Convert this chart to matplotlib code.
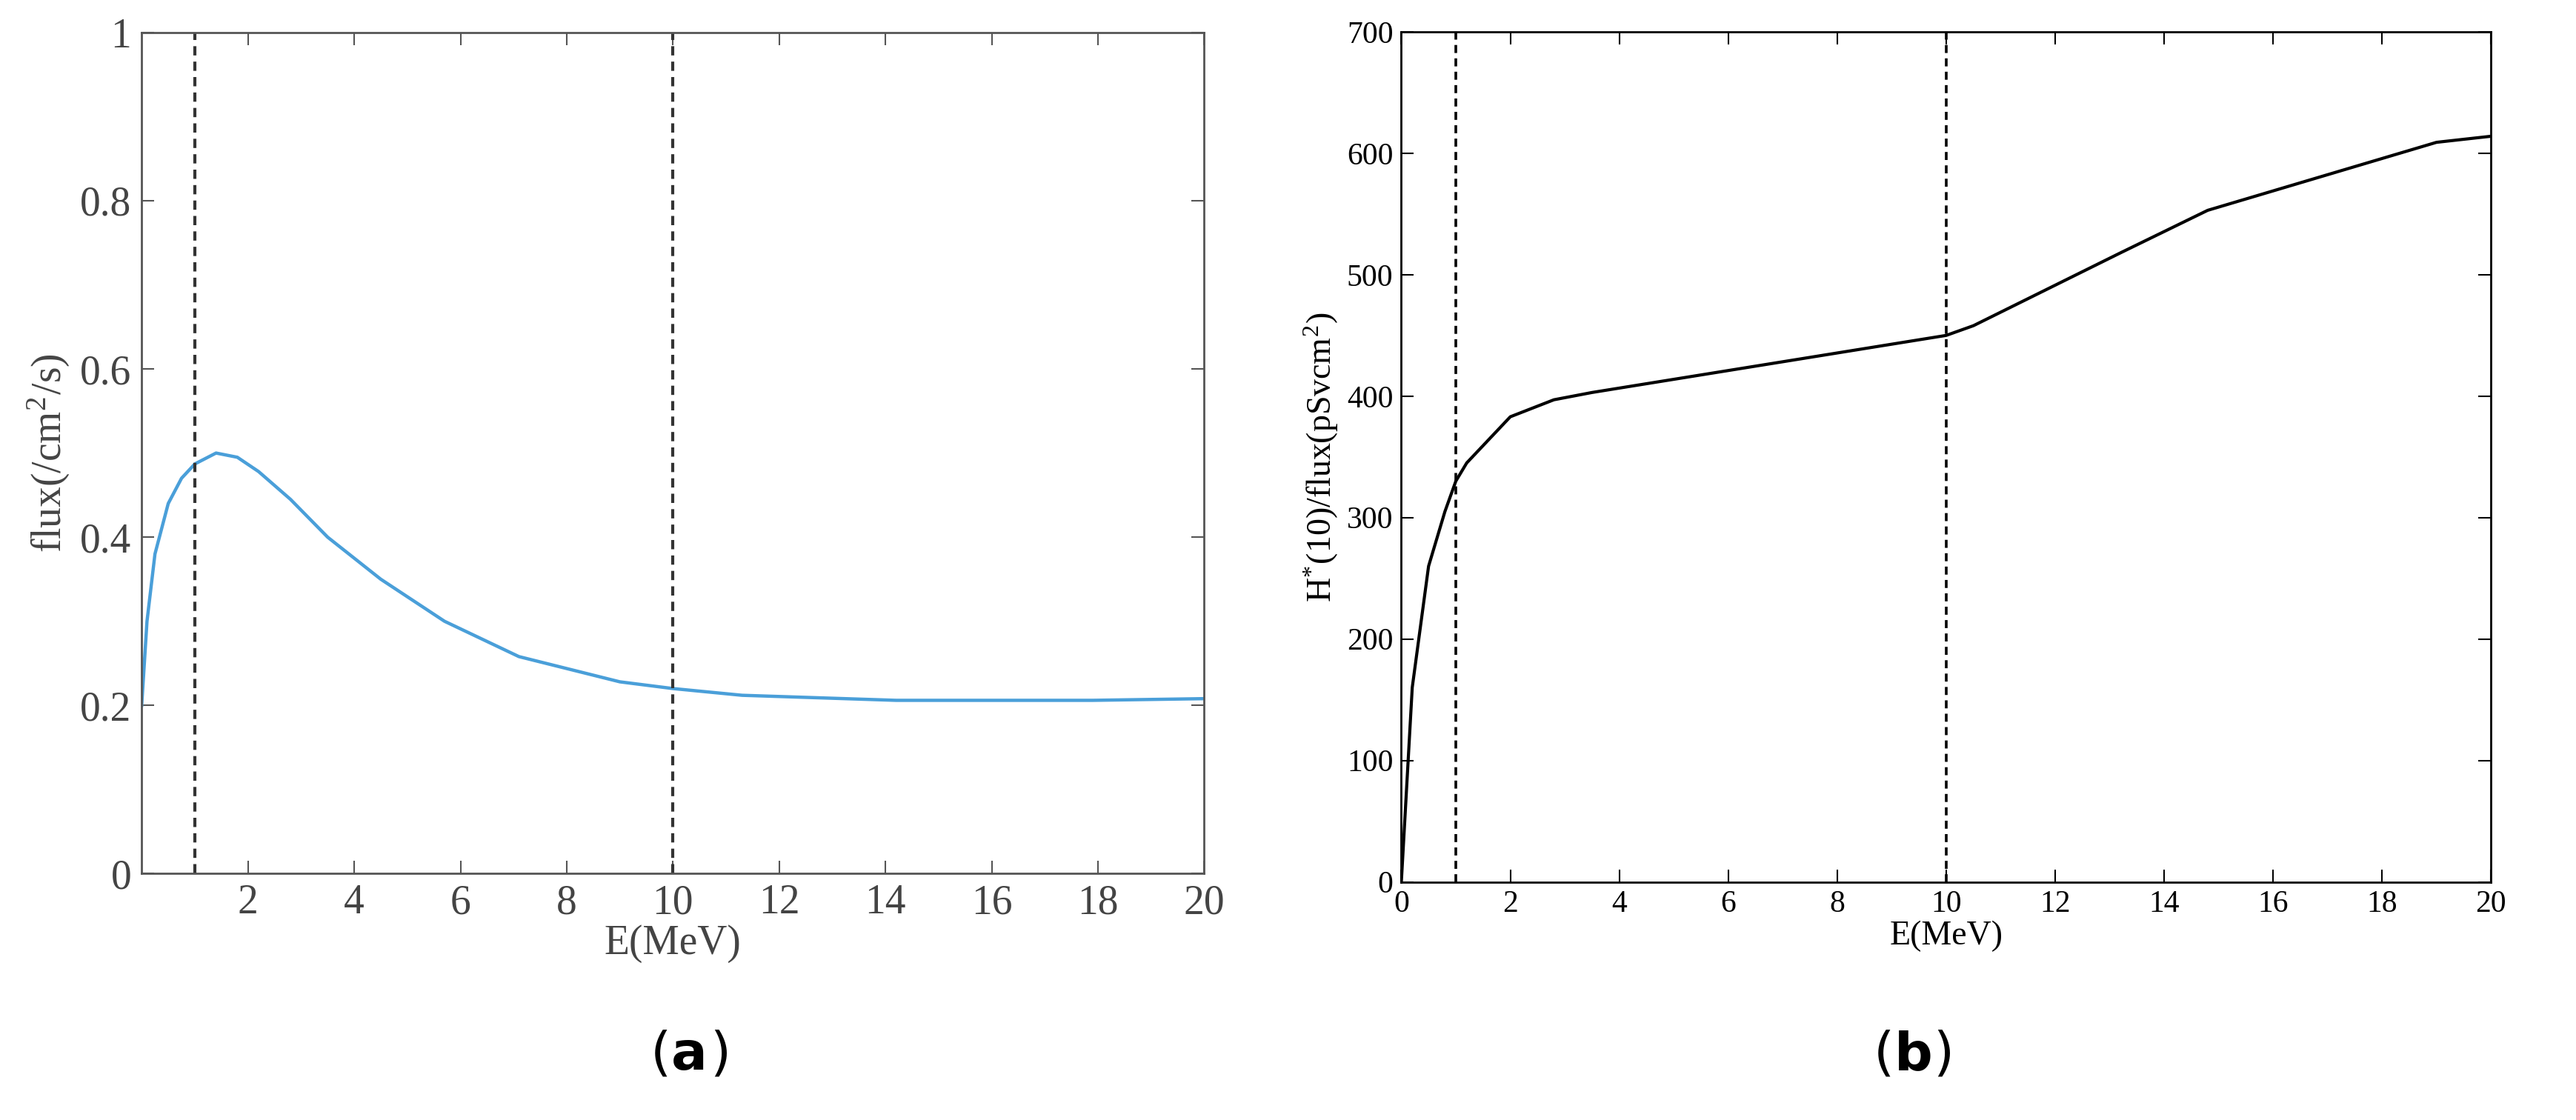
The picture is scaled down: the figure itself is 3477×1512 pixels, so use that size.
import matplotlib
matplotlib.use('Agg')
import matplotlib.pyplot as plt

plt.rcParams['font.family'] = ['Liberation Serif', 'DejaVu Serif']
plt.rcParams['mathtext.fontset'] = 'stix'

# panel (a): neutron flux spectrum
flux_e = [0.0, 0.1, 0.25, 0.5, 0.75, 1.0, 1.4, 1.8, 2.2, 2.8, 3.5, 4.5, 5.7, 7.1, 9.0, 10.0, 11.3, 14.2, 17.9, 20.0]
flux_v = [0.2, 0.3, 0.38, 0.44, 0.47, 0.487, 0.5, 0.495, 0.478, 0.445, 0.40, 0.35, 0.30, 0.258, 0.228, 0.22, 0.212, 0.206, 0.206, 0.208]

# panel (b): conversion coefficient
h_e = [0.0, 0.1, 0.2, 0.35, 0.5, 0.8, 1.0, 1.2, 2.0, 2.8, 3.5, 10.0, 10.5, 13.2, 14.8, 16.6, 19.0, 20.0]
h_v = [0, 80, 160, 210, 260, 305, 330, 345, 383, 397, 403, 450, 458, 518, 553, 577, 609, 614]

dash_x = [1, 10]

fig = plt.figure(figsize=(34.77, 15.12), dpi=100)

ax1 = fig.add_axes([0.055, 0.22, 0.4125, 0.751])
ax1.plot(flux_e, flux_v, color='#4a9fd9', lw=3.2)
for x in dash_x:
    ax1.axvline(x, color='#333333', ls='--', lw=3, dashes=(3, 2))
ax1.set_xlim(0, 20)
ax1.set_ylim(0, 1)
ax1.set_xticks(range(2, 21, 2))
ax1.set_yticks([0, 0.2, 0.4, 0.6, 0.8, 1])
ax1.set_yticklabels(['0', '0.2', '0.4', '0.6', '0.8', '1'])
ax1.tick_params(direction='in', length=12, width=1.5, labelsize=40, pad=10, top=True, right=True,
                color='#555555', labelcolor='#444444')
ax1.set_xlabel('E(MeV)', fontsize=40, color='#444444', labelpad=2)
ax1.set_ylabel(r'flux(/cm$^{\mathregular{2}}$/s)', fontsize=40, color='#444444', labelpad=8)
for s in ax1.spines.values():
    s.set_color('#555555')
    s.set_linewidth(2)

ax2 = fig.add_axes([0.544, 0.2126, 0.423, 0.759])
ax2.plot(h_e, h_v, color='black', lw=3)
for x in dash_x:
    ax2.axvline(x, color='black', ls='--', lw=2.6, dashes=(3, 2))
ax2.set_xlim(0, 20)
ax2.set_ylim(0, 700)
ax2.set_xticks(range(0, 21, 2))
ax2.set_yticks(range(0, 701, 100))
ax2.tick_params(direction='in', length=12, width=1.5, labelsize=30, pad=8, top=True, right=True)
ax2.set_xlabel('E(MeV)', fontsize=33, labelpad=2)
ax2.set_ylabel(r'H$^{\mathregular{*}}$(10)/flux(pSvcm$^{\mathregular{2}}$)', fontsize=33, labelpad=6)
for s in ax2.spines.values():
    s.set_linewidth(2)

for cx, letter in [(0.2605, 'a'), (0.7355, 'b')]:
    fig.text(cx, 0.058, '(', fontsize=52, ha='right', va='center', family=['DejaVu Sans'])
    fig.text(cx, 0.058, letter, fontsize=52, ha='left', va='center', weight='bold', family=['DejaVu Sans'])
    fig.text(cx + 0.015, 0.058, ')', fontsize=52, ha='left', va='center', family=['DejaVu Sans'])

fig.savefig('out.png', dpi=100)
